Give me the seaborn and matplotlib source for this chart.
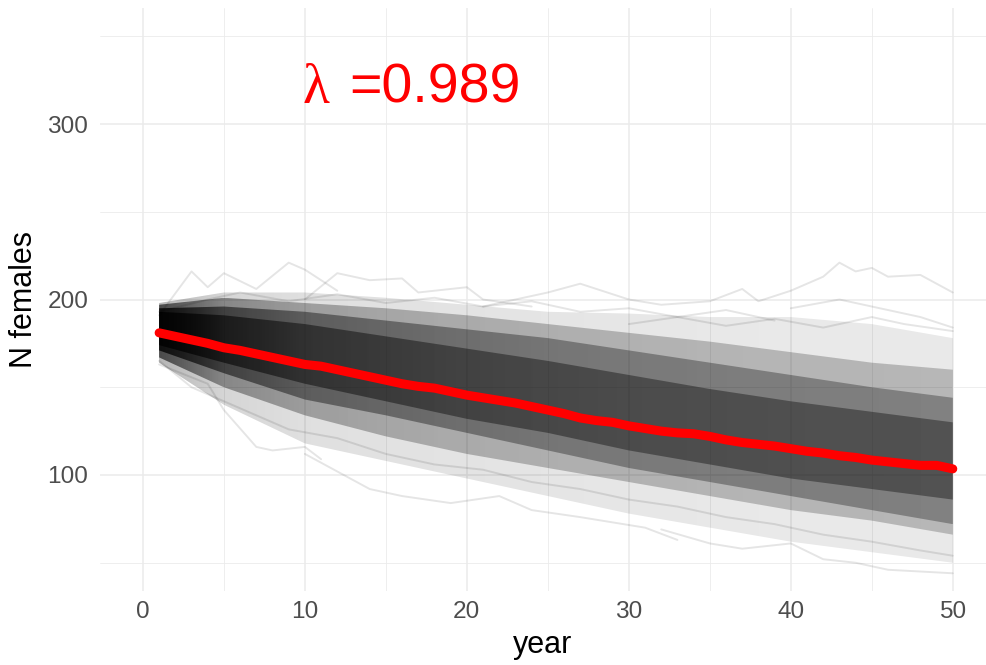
import matplotlib
matplotlib.use("Agg")
import matplotlib.pyplot as plt
import numpy as np
import pandas as pd
import seaborn as sns

# ---- data -------------------------------------------------------------
# mean number of females per year across simulated trajectories
years = list(range(1, 51))
mean_females = [181, 179, 177, 175, 172.5, 171, 169, 167, 165, 163,
                162, 160, 158, 156, 154, 152, 150.5, 149.5, 147.5, 145.5,
                144, 142.5, 141, 139, 137, 135, 132.5, 131, 130, 128,
                126.5, 125, 124, 123.5, 122, 120, 118.5, 117.5, 116.5, 115,
                113.5, 112.5, 111, 110, 108.5, 107.5, 106.5, 105.5, 105.5, 103.5]

# spread of the simulated trajectories (lower / upper envelopes)
band_years = [1, 5, 10, 15, 20, 25, 30, 35, 40, 45, 50]
outer_lo = [164, 140, 118, 108, 98, 88, 78, 70, 62, 56, 50]
outer_hi = [198, 204, 204, 201, 197, 193, 192, 190, 190, 186, 178]
mid_lo = [167, 150, 134, 122, 112, 104, 96, 88, 80, 74, 66]
mid_hi = [197, 201, 198, 195, 191, 186, 181, 176, 170, 164, 160]
core_lo = [171, 158, 143, 134, 124, 114, 104, 96, 88, 80, 72]
core_hi = [195, 196, 193, 188, 183, 178, 171, 164, 157, 150, 144]
inner_lo = [174, 164, 152, 142, 132, 124, 114, 106, 98, 92, 86]
inner_hi = [193, 191, 186, 179, 172, 165, 157, 149, 142, 136, 130]

# a few individual trajectories at the edges of the cloud
high_a_years = [1, 3, 4, 5, 7, 9, 10, 12]
high_a_vals = [191, 216, 207, 215, 206, 221, 217, 205]
high_b_years = [10, 12, 14, 16, 17, 20, 21, 24]
high_b_vals = [200, 215, 211, 212, 204, 207, 200, 196]
high_c_years = [21, 25, 27, 30, 32, 35, 37, 38, 40, 42, 43, 44, 45, 46, 48, 50]
high_c_vals = [196, 204, 209, 200, 197, 199, 206, 199, 205, 213, 221, 216, 218, 213, 214, 204]
high_d_years = [40, 43, 46, 48, 50]
high_d_vals = [195, 200, 194, 190, 184]
high_e_years = [1, 4, 6, 9, 12, 15, 18, 21, 24, 27, 30, 33, 36, 39]
high_e_vals = [193, 200, 204, 199, 203, 198, 201, 196, 199, 193, 195, 190, 194, 188]
high_f_years = [30, 33, 36, 39, 42, 45, 47, 50]
high_f_vals = [186, 190, 185, 189, 184, 190, 186, 182]
low_a_years = [1, 4, 5, 7, 8, 10, 11]
low_a_vals = [163, 152, 137, 116, 114, 116, 109]
low_b_years = [10, 14, 16, 19, 22, 24, 27, 31, 33]
low_b_vals = [112, 92, 88, 84, 88, 80, 76, 70, 63]
low_c_years = [32, 35, 37, 40, 42, 44, 46, 50]
low_c_vals = [69, 61, 58, 61, 52, 50, 46, 44]
low_d_years = [1, 3, 6, 9, 12, 15, 18, 21, 24, 27, 30, 33, 36, 39, 42, 45, 48, 50]
low_d_vals = [165, 150, 138, 126, 121, 112, 106, 103, 96, 92, 86, 82, 76, 72, 66, 62, 57, 54]

growth_rate = "0.989"

# ---- figure -----------------------------------------------------------
sns.set_theme(style="white")
plt.rcParams["font.family"] = ["Liberation Sans", "DejaVu Sans"]

fig = plt.figure(figsize=(9.86, 6.65), dpi=100)
ax = fig.add_axes([100 / 986, 1 - 591 / 665, 886 / 986, 583 / 665])


def draw_band(lo, hi, base_alpha):
    """Shade an envelope, darker where the trajectories are packed tightly."""
    lo = np.asarray(lo, float)
    hi = np.asarray(hi, float)
    widths = hi - lo
    node_alpha = np.minimum(0.95, base_alpha * (widths.mean() / widths) ** 0.9)
    xs = np.linspace(band_years[0], band_years[-1], 500)
    rgba = np.zeros((1, xs.size, 4))
    rgba[..., 3] = np.interp(xs, band_years, node_alpha)
    poly = ax.fill_between(band_years, lo, hi, facecolor="none", lw=0)
    im = ax.imshow(rgba, extent=(band_years[0], band_years[-1], lo.min(), hi.max()),
                   aspect="auto", interpolation="bilinear", zorder=2)
    im.set_clip_path(poly.get_paths()[0], transform=ax.transData)


draw_band(outer_lo, outer_hi, 0.11)
draw_band(mid_lo, mid_hi, 0.26)
draw_band(core_lo, core_hi, 0.36)
draw_band(inner_lo, inner_hi, 0.42)

for xs, ys in [(high_a_years, high_a_vals), (high_b_years, high_b_vals),
               (high_c_years, high_c_vals), (high_d_years, high_d_vals),
               (high_e_years, high_e_vals), (high_f_years, high_f_vals),
               (low_a_years, low_a_vals), (low_b_years, low_b_vals),
               (low_c_years, low_c_vals), (low_d_years, low_d_vals)]:
    sns.lineplot(x=xs, y=ys, ax=ax, color="black", alpha=0.1, lw=1.4,
                 zorder=3, estimator=None, sort=False)

df_mean = pd.DataFrame({"year": years, "N": mean_females})
sns.lineplot(data=df_mean, x="year", y="N", ax=ax, color="#FF0000",
             lw=6.5, zorder=5, estimator=None)

ax.set_xlim(-2.65, 52.05)
ax.set_ylim(33.9, 366.1)
ax.set_xticks([0, 10, 20, 30, 40, 50])
ax.set_xticks([5, 15, 25, 35, 45], minor=True)
ax.set_yticks([100, 200, 300])
ax.set_yticks([50, 150, 250, 350], minor=True)
ax.grid(which="major", color="#EBEBEB", lw=1.1, zorder=0)
ax.grid(which="minor", color="#EBEBEB", lw=0.6, zorder=0)
ax.set_axisbelow(True)
for s in ax.spines.values():
    s.set_visible(False)
ax.tick_params(which="both", length=0, labelsize=17.6, labelcolor="#4D4D4D")
ax.tick_params(axis="y", pad=8.5)
ax.tick_params(axis="x", pad=7)

ax.text(9.88, 312, "λ", color="#FF0000", fontsize=40,
        family=["Liberation Serif", "DejaVu Serif"], ha="left", va="baseline")
ax.text(12.75, 312, "=" + growth_rate, color="#FF0000", fontsize=40,
        ha="left", va="baseline")

ax.set_xlabel("year", fontsize=22, color="black", labelpad=5)
ax.set_ylabel("N females", fontsize=22, color="black", labelpad=6)

fig.savefig("out.png", dpi=100, facecolor="white")
